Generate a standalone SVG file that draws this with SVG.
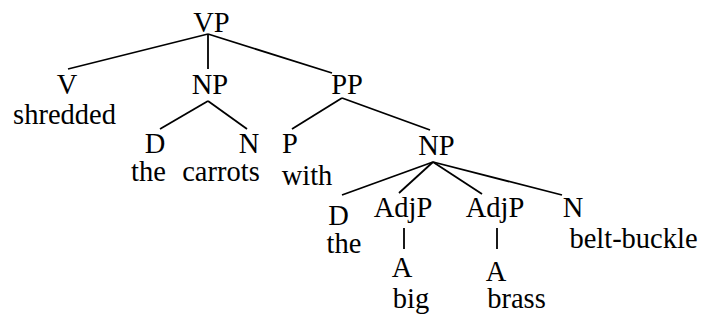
<svg xmlns="http://www.w3.org/2000/svg" width="705" height="320" viewBox="0 0 705 320">
<style>
text{font-family:"Liberation Serif","Times New Roman",serif;font-size:28.5px;fill:#000;text-anchor:middle}
.e line{stroke:#000;stroke-width:1.8;stroke-linecap:butt}
</style>
<rect width="705" height="320" fill="#fff"/>
<g class="e" id="connectors">
<line x1="208" y1="34" x2="68" y2="69"/>
<line x1="208" y1="34" x2="208" y2="69"/>
<line x1="208" y1="34" x2="332" y2="73"/>
<line x1="208" y1="101" x2="160" y2="129"/>
<line x1="208" y1="101" x2="247" y2="129"/>
<line x1="342" y1="98" x2="292" y2="129"/>
<line x1="342" y1="98" x2="430" y2="130"/>
<line x1="433" y1="162" x2="342" y2="195"/>
<line x1="433" y1="162" x2="399" y2="193"/>
<line x1="433" y1="162" x2="482" y2="194"/>
<line x1="433" y1="162" x2="562" y2="195"/>
<line x1="404" y1="228" x2="404" y2="249"/>
<line x1="497" y1="228" x2="497" y2="249"/>
</g>
<g id="vp"><text x="211.5" y="32">VP</text></g>
<g id="v"><text x="67" y="94">V</text><text x="64.5" y="124">shredded</text></g>
<g id="np1"><text x="210" y="94">NP</text></g>
<g id="pp"><text x="347" y="94">PP</text></g>
<g id="d1"><text x="155" y="153">D</text><text x="148.5" y="181">the</text></g>
<g id="n1"><text x="249" y="153">N</text><text x="221" y="181">carrots</text></g>
<g id="p"><text x="290" y="153">P</text><text x="307" y="185">with</text></g>
<g id="np2"><text x="436.5" y="155">NP</text></g>
<g id="d2"><text x="338.5" y="225">D</text><text x="344" y="253">the</text></g>
<g id="adjp1"><text x="403" y="217">AdjP</text></g>
<g id="adjp2"><text x="495" y="217">AdjP</text></g>
<g id="n2"><text x="573" y="217">N</text><text x="633.5" y="248">belt-buckle</text></g>
<g id="a1"><text x="402" y="277">A</text><text x="411" y="308">big</text></g>
<g id="a2"><text x="496" y="281">A</text><text x="516.5" y="308">brass</text></g>
</svg>
